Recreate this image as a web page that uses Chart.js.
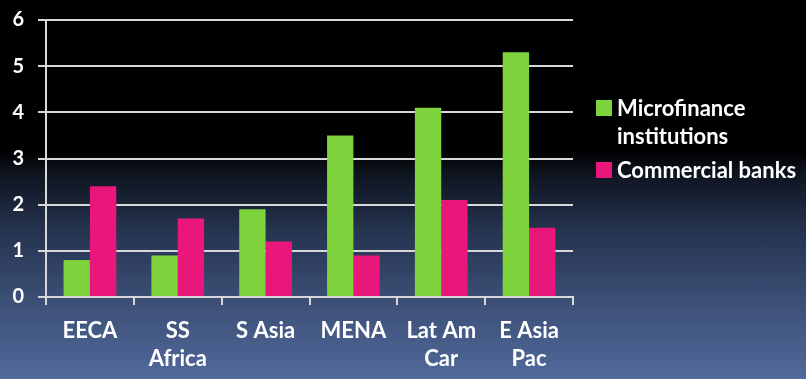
<!DOCTYPE html>
<html>
<head>
<meta charset="utf-8">
<script src="https://cdn.jsdelivr.net/npm/chart.js@4"></script>
<style>
  html, body { margin: 0; padding: 0; }
  body {
    width: 806px;
    height: 379px;
    overflow: hidden;
    position: relative;
    background: linear-gradient(to bottom, #000 0%, #000 40%, #0d121c 45%, #24324d 60%, #3a4d73 78%, #51699b 100%);
    font-family: Lato, "DejaVu Sans", sans-serif;
  }
  #wrap { position: absolute; left: 0; top: 0; width: 806px; height: 379px; }
  #legend {
    position: absolute;
    left: 596px;
    top: 94px;
    color: #fff;
    font-weight: bold;
    font-size: 22px;
    line-height: 28px;
  }
  .item { display: flex; align-items: flex-start; margin-bottom: 6px; }
  .box { width: 16px; height: 16px; margin-top: 6px; margin-right: 5px; flex: none; }
</style>
</head>
<body>
<div id="wrap"><canvas id="chart" width="806" height="379"></canvas></div>
<div id="legend"></div>
<script>
// regions along the x axis (two-line labels as arrays)
const categories = [["EECA"], ["SS", "Africa"], ["S Asia"], ["MENA"], ["Lat Am", "Car"], ["E Asia", "Pac"]];
const microfinance = [0.8, 0.9, 1.9, 3.5, 4.1, 5.3];
const commercialBanks = [2.4, 1.7, 1.2, 0.9, 2.1, 1.5];
const seriesNames = [["Microfinance", "institutions"], ["Commercial banks"]];
const seriesColors = ["#7ed23c", "#e9177c"];
const yTicks = [0, 1, 2, 3, 4, 5, 6];

document.addEventListener("DOMContentLoaded", () => {
    const ctx = document.getElementById("chart").getContext("2d");
    const lineColor = "#d8d8d8";

    new Chart(ctx, {
        type: "bar",
        data: {
            labels: categories,
            datasets: [
                { label: seriesNames[0].join(" "), data: microfinance, backgroundColor: seriesColors[0] },
                { label: seriesNames[1].join(" "), data: commercialBanks, backgroundColor: seriesColors[1] }
            ]
        },
        options: {
            responsive: false,
            animation: false,
            layout: { padding: { top: 19, right: 233, left: 0, bottom: 0 } },
            datasets: { bar: { barPercentage: 1, categoryPercentage: 0.6 } },
            plugins: { legend: { display: false }, tooltip: { enabled: false } },
            scales: {
                x: {
                    grid: { display: true, drawOnChartArea: false, color: lineColor, lineWidth: 2, tickLength: 8 },
                    border: { display: true, color: lineColor, width: 2 },
                    ticks: {
                        color: "#fff",
                        font: { family: "Lato", size: 22, weight: "bold", lineHeight: 1.27 },
                        padding: 12,
                        maxRotation: 0,
                        autoSkip: false
                    },
                    afterFit: scale => { scale.height = 82; }
                },
                y: {
                    min: 0,
                    max: 6,
                    afterBuildTicks: scale => { scale.ticks = yTicks.map(v => ({ value: v })); },
                    grid: { color: lineColor, lineWidth: 2, tickLength: 8 },
                    border: { display: true, color: lineColor, width: 2 },
                    ticks: {
                        color: "#fff",
                        font: { family: "Lato", size: 20, weight: "bold", lineHeight: 0.6 },
                        padding: 14
                    },
                    afterFit: scale => { scale.width = 46; }
                }
            }
        }
    });

    // legend drawn as html so the first entry can wrap onto two lines
    const legendEl = document.getElementById("legend");
    seriesNames.forEach((name, i) => {
        const item = document.createElement("div");
        item.className = "item";
        const box = document.createElement("div");
        box.className = "box";
        box.style.background = seriesColors[i];
        const text = document.createElement("div");
        text.innerHTML = name.join("<br>");
        item.appendChild(box);
        item.appendChild(text);
        legendEl.appendChild(item);
    });
});
</script>
</body>
</html>
